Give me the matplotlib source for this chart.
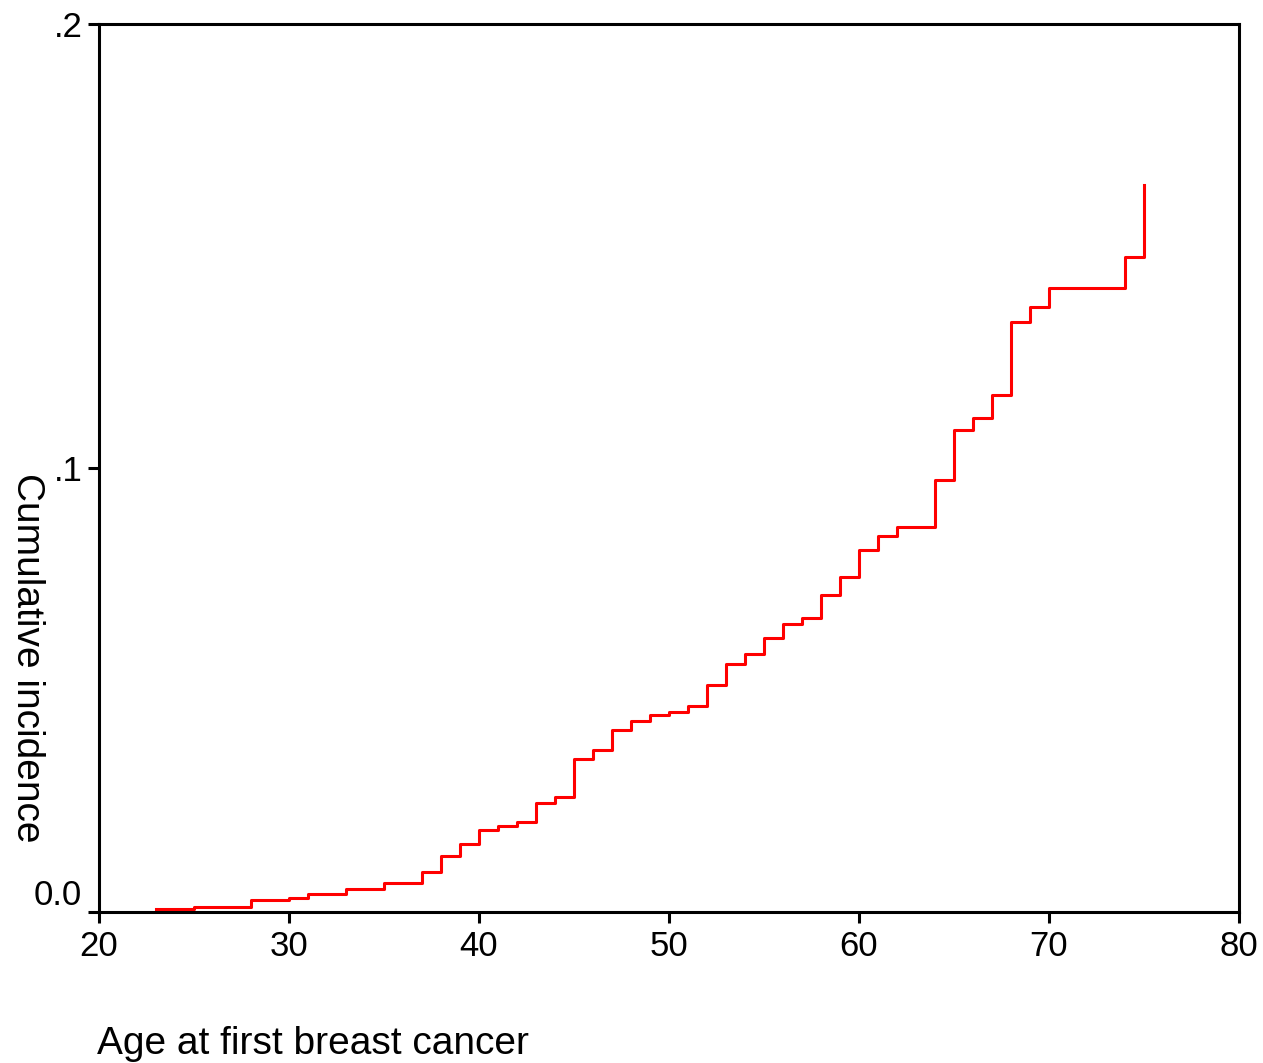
import matplotlib
matplotlib.use('Agg')
import matplotlib.pyplot as plt
from matplotlib.transforms import ScaledTranslation

plt.rcParams['font.family'] = ['Liberation Sans', 'DejaVu Sans']

# ages at which the cumulative incidence steps up
age = [23, 25, 26, 28, 30, 31, 32, 33, 35, 36, 37, 38, 39, 40, 41, 42, 43, 44,
       45, 46, 47, 48, 49, 50, 51, 52, 53, 54, 55, 56, 57, 58, 59, 60, 61, 62,
       64, 65, 66, 67, 68, 69, 70, 74, 75]
cuminc = [0.0006, 0.0011, 0.0011, 0.0026, 0.0032, 0.0040, 0.0040, 0.0052,
          0.0065, 0.0065, 0.0090, 0.0126, 0.0153, 0.0185, 0.0194, 0.0203,
          0.0245, 0.0259, 0.0345, 0.0365, 0.0410, 0.0430, 0.0444, 0.0451,
          0.0464, 0.0511, 0.0558, 0.0581, 0.0617, 0.0649, 0.0662, 0.0714,
          0.0755, 0.0815, 0.0847, 0.0867, 0.0973, 0.1086, 0.1113, 0.1165,
          0.1329, 0.1363, 0.1405, 0.1475, 0.1637]

xticks = [20, 30, 40, 50, 60, 70, 80]
yticks = [0.0, 0.1, 0.2]
ytick_labels = ['0.0', '.1', '.2']

fig = plt.figure(figsize=(12.63, 10.63), dpi=100)
ax = fig.add_axes([99/1263, 1 - 912/1063, 1140/1263, 888/1063])

ax.step(age, cuminc, where='post', color='red', lw=2.2)

ax.set_xlim(20, 80)
ax.set_ylim(0, 0.2)
ax.set_xticks(xticks)
ax.set_yticks(yticks)
ax.set_yticklabels(ytick_labels)
ax.tick_params(direction='out', length=8, width=2.2, labelsize=25, pad=4)
ax.tick_params(axis='x', pad=5)
for s in ax.spines.values():
    s.set_linewidth(2.2)

# the 0.0 label sits a bit above its tick
lab0 = ax.get_yticklabels()[0]
lab0.set_transform(lab0.get_transform() + ScaledTranslation(0, 0.2, fig.dpi_scale_trans))

fig.text(27/1263, 1 - 658/1063, 'Cumulative incidence', rotation=270,
         ha='center', va='center', fontsize=28)
fig.text(97/1263, 1 - 1044/1063, 'Age at first breast cancer',
         ha='left', va='center', fontsize=28)

fig.savefig('out.png', dpi=100)
